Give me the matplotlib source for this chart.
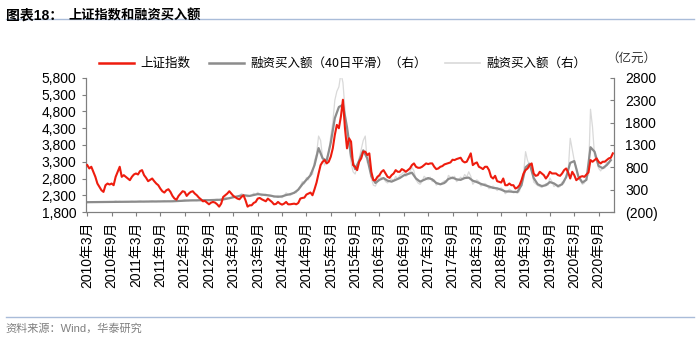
import matplotlib

matplotlib.use("Agg")
import matplotlib.pyplot as plt
import numpy as np
from matplotlib.lines import Line2D
from matplotlib.ticker import FuncFormatter

plt.rcParams["font.family"] = ["Liberation Sans", "Noto Sans CJK SC", "DejaVu Sans"]
CJK = ["Noto Sans CJK SC", "DejaVu Sans"]

# 2010-03 .. 2020-12; index and raw purchases sampled twice a month,
# the 40-day smoothed series once a month
START_YEAR, START_MONTH = 2010, 3

sh_index = [
    # 2010
    3200, 3100, 3150, 3000, 2850, 2650, 2550, 2450, 2400, 2600,
    2650, 2620, 2650, 2600, 2850, 3000, 3150, 2850, 2900, 2850,
    # 2011
    2800, 2750, 2850, 2920, 2950, 2920, 3020, 3050, 2900, 2820, 2720, 2760,
    2800, 2720, 2650, 2600, 2500, 2420, 2380, 2450, 2480, 2400, 2280, 2200,
    # 2012
    2170, 2280, 2350, 2420, 2400, 2280, 2350, 2400, 2420, 2350, 2300, 2230,
    2180, 2120, 2130, 2080, 2030, 2080, 2100, 2080, 2030, 1960, 2050, 2250,
    # 2013
    2300, 2350, 2420, 2350, 2280, 2240, 2200, 2180, 2250, 2300, 2150, 1960,
    2000, 2000, 2070, 2100, 2200, 2220, 2180, 2150, 2120, 2200, 2150, 2100,
    # 2014
    2030, 2040, 2100, 2050, 2020, 2050, 2100, 2030, 2030, 2040, 2050, 2030,
    2070, 2200, 2220, 2230, 2320, 2350, 2380, 2300, 2480, 2680, 2950, 3200,
    # 2015
    3300, 3350, 3250, 3300, 3450, 3700, 4100, 4400, 4300, 4650, 5150, 4300,
    3700, 4000, 3900, 3200, 3150, 3050, 3300, 3400, 3600, 3600, 3500, 3550,
    # 2016
    3000, 2750, 2750, 2850, 2900, 3000, 3050, 2950, 2850, 2820, 2900, 2950,
    3050, 3000, 3000, 3080, 3050, 3000, 3050, 3100, 3200, 3250, 3150, 3120,
    # 2017
    3120, 3150, 3200, 3250, 3230, 3250, 3250, 3150, 3080, 3100, 3150, 3170,
    3220, 3240, 3260, 3280, 3360, 3350, 3380, 3400, 3420, 3320, 3280, 3300,
    # 2018
    3420, 3550, 3200, 3250, 3280, 3150, 3120, 3080, 3150, 3150, 3050, 2850,
    2800, 2880, 2720, 2700, 2680, 2800, 2600, 2600, 2650, 2600, 2600, 2500,
    # 2019
    2530, 2600, 2750, 2950, 3050, 3100, 3200, 3250, 2950, 2880, 2900, 3000,
    2950, 2900, 2800, 2880, 3000, 2950, 2950, 2950, 2900, 2880, 2950, 3050,
    # 2020
    3100, 2980, 2800, 3000, 2900, 2750, 2800, 2850, 2870, 2850, 2920, 2980,
    3350, 3300, 3350, 3400, 3300, 3250, 3300, 3300, 3350, 3400, 3420, 3550,
]

# margin purchases, 100m CNY, raw
margin_buy = [
    # 2010
    10, 20, 28, 18, 22, 15, 20, 25, 18, 30,
    28, 35, 20, 30, 45, 35, 40, 25, 30, 22,
    # 2011
    25, 32, 40, 30, 28, 38, 45, 35, 30, 35, 32, 40,
    48, 35, 30, 38, 35, 42, 50, 38, 40, 35, 45, 38,
    # 2012
    48, 55, 42, 60, 75, 60, 52, 68, 70, 58, 52, 65,
    75, 58, 62, 70, 60, 72, 62, 80, 85, 70, 95, 110,
    # 2013
    130, 110, 95, 120, 170, 140, 130, 160, 210, 190, 170, 140,
    150, 170, 220, 190, 240, 200, 160, 190, 200, 170, 150, 170,
    # 2014
    130, 150, 170, 140, 120, 160, 230, 190, 170, 200, 250, 230,
    320, 380, 480, 430, 570, 520, 680, 640, 950, 1100, 1500, 1400,
    # 2015
    1000, 850, 1000, 1150, 1500, 1800, 2300, 2500, 2600, 2900, 2700, 2100,
    1500, 1300, 900, 700, 650, 800, 1000, 1200, 1400, 1500, 900, 950,
    # 2016
    550, 400, 380, 480, 620, 560, 560, 480, 450, 500, 540, 500,
    600, 540, 620, 650, 700, 600, 640, 700, 800, 720, 520, 450,
    # 2017
    420, 480, 600, 560, 520, 580, 480, 520, 400, 440, 420, 460,
    500, 460, 620, 580, 540, 600, 480, 520, 580, 540, 640, 580,
    # 2018
    700, 600, 420, 480, 520, 480, 380, 420, 440, 400, 320, 350,
    380, 340, 280, 320, 340, 300, 210, 250, 310, 280, 230, 240,
    # 2019
    220, 260, 500, 650, 1150, 950, 850, 780, 470, 430, 390, 370,
    350, 380, 440, 400, 560, 480, 370, 400, 350, 370, 470, 450,
    # 2020
    600, 700, 1450, 1200, 950, 800, 540, 500, 420, 450, 580, 620,
    2100, 1700, 1050, 950, 780, 720, 800, 780, 920, 880, 1000, 1100,
]

# margin purchases, 100m CNY, 40-day smoothed
margin_buy_40d = [
    20, 22, 22, 22, 24, 25, 25, 28, 30, 30,
    30, 32, 33, 35, 35, 36, 38, 38, 38, 40, 40, 40,
    45, 50, 55, 58, 60, 60, 62, 65, 65, 68, 70, 75,
    90, 110, 130, 150, 170, 170, 160, 180, 200, 190, 180, 170,
    150, 140, 150, 180, 200, 230, 300, 420, 520, 620, 850, 1230,
    1000, 950, 1350, 1900, 2150, 2200, 1700, 1050, 760, 950, 1180, 1000,
    600, 450, 520, 560, 500, 480, 520, 560, 620, 650, 680, 550,
    480, 520, 560, 530, 450, 420, 450, 540, 570, 530, 520, 560,
    570, 500, 470, 430, 400, 370, 340, 330, 300, 260, 260, 250,
    250, 400, 800, 880, 560, 420, 380, 400, 470, 440, 380, 420,
    580, 900, 940, 600, 460, 520, 1250, 1150, 830, 780, 850, 960,
]

RED = "#ee1c0e"
GREY = "#8c8c8c"
LIGHT = "#d9d9d9"
AXIS = "#7f7f7f"

x_half = np.arange(len(sh_index)) / 2
x_month = np.arange(len(margin_buy_40d))
tick_pos = np.arange(0, len(margin_buy_40d), 6)
tick_labels = []
for p in tick_pos:
    m = START_MONTH - 1 + p
    tick_labels.append(f"{START_YEAR + m // 12}年{m % 12 + 1}月")

fig = plt.figure(figsize=(7.0, 3.39), dpi=100)
ax = fig.add_axes([0.1229, 0.3746, 0.7543, 0.3954])
ax2 = ax.twinx()

ax2.plot(x_half, margin_buy, color=LIGHT, lw=0.9, zorder=1)
ax2.plot(x_month, margin_buy_40d, color=GREY, lw=1.6, zorder=2)
ax.plot(x_half, sh_index, color=RED, lw=1.5, zorder=3)
ax.set_zorder(ax2.get_zorder() + 1)
ax.patch.set_visible(False)

ax.set_xlim(-0.3, 129.8)
ax.set_ylim(1800, 5800)
ax.set_yticks(np.arange(1800, 5801, 500))
ax.yaxis.set_major_formatter(FuncFormatter(lambda v, _: f"{v:,.0f}"))
ax2.set_ylim(-200, 2800)
ax2.set_yticks(np.arange(-200, 2801, 500))
ax2.yaxis.set_major_formatter(
    FuncFormatter(lambda v, _: f"({abs(v):.0f})" if v < 0 else f"{v:.0f}"))

ax.set_xticks(tick_pos)
ax.set_xticklabels(tick_labels, rotation=90, fontsize=9.5, family=["Liberation Sans"] + CJK)

for a in (ax, ax2):
    a.spines["top"].set_visible(False)
    for s in ("left", "right", "bottom"):
        a.spines[s].set_color(AXIS)
        a.spines[s].set_linewidth(0.8)
    a.tick_params(colors=AXIS, labelcolor="#000000", labelsize=10, length=3, width=0.8)
ax.tick_params(axis="y", direction="out", pad=4)
ax2.tick_params(axis="y", direction="in", pad=8)
ax.tick_params(axis="x", direction="out", pad=4)

handles = [
    Line2D([], [], color=RED, lw=1.8),
    Line2D([], [], color=GREY, lw=1.8),
    Line2D([], [], color=LIGHT, lw=1.2),
]
labels = ["上证指数", "融资买入额（40日平滑）（右）", "融资买入额（右）"]
fig.legend(handles, labels, loc="center left", bbox_to_anchor=(0.125, 0.813),
           ncol=3, frameon=False, handlelength=2.8, handletextpad=0.5,
           columnspacing=1.5, prop={"family": CJK, "size": 9})
fig.text(0.866, 0.828, "（亿元）", family=CJK, fontsize=9, color="#333333",
         va="center", ha="left")

# header and footer
fig.text(0.008, 0.975, "图表18：", family=["Liberation Sans"] + CJK, fontsize=10,
         fontweight="bold", va="top")
fig.text(0.098, 0.975, "上证指数和融资买入额", family=CJK, fontsize=9.5,
         fontweight="bold", va="top")
fig.add_artist(Line2D([0.008, 0.992], [0.944, 0.944], color="#a9bcd9", lw=1.0))
fig.add_artist(Line2D([0.008, 0.992], [0.065, 0.065], color="#a9bcd9", lw=1.0))
fig.text(0.008, 0.03, "资料来源：Wind，华泰研究", family=["Liberation Sans"] + CJK,
         fontsize=8, color="#7f7f7f", va="center")

fig.savefig("out.png", dpi=100)
